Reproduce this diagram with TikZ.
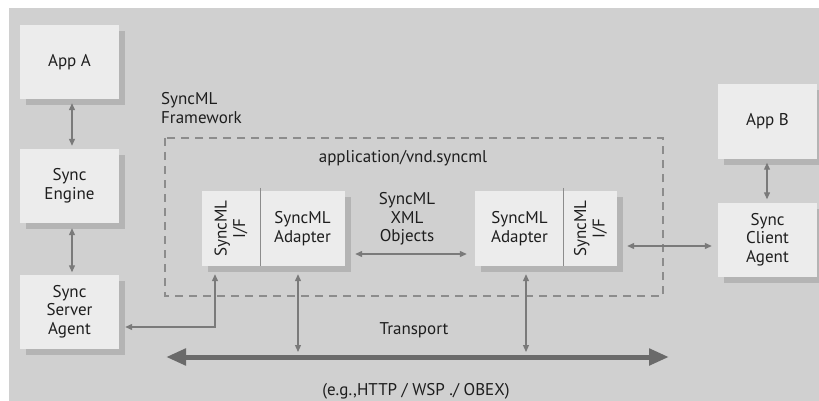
\documentclass[tikz,border=0pt]{standalone}
\usepackage{fontspec}
\setmainfont{PT Sans}
\usetikzlibrary{arrows.meta,calc,shadows}
\definecolor{bg}{HTML}{D0D0D0}
\definecolor{boxfill}{HTML}{ECECEC}
\definecolor{shadowc}{HTML}{B4B4B4}
\definecolor{linec}{HTML}{7A7A7A}
\definecolor{dashc}{HTML}{8C8C8C}
\definecolor{trc}{HTML}{6A6A6A}
\definecolor{txt}{HTML}{1E1E1E}
\begin{document}
\begin{tikzpicture}[x=1pt,y=-1pt,
  lbl/.style={inner sep=0pt, align=center, text=txt, font=\fontsize{17}{18.6}\selectfont},
  box/.style={lbl, fill=boxfill, draw=none,
    drop shadow={shadow xshift=6pt, shadow yshift=-6pt, fill=shadowc, opacity=1}},
  bigbox/.style={box, minimum width=99pt, minimum height=74pt},
  part/.style={box, minimum height=75pt},
  biarr/.style={linec, line width=1.2pt, {Triangle[length=7pt,width=6pt]}-{Triangle[length=7pt,width=6pt]}},
  trarr/.style={trc, line width=5pt, {Triangle[length=20pt,width=16pt]}-{Triangle[length=20pt,width=16pt]}},
  frame/.style={dashc, line width=1.2pt, dash pattern=on 8pt off 6pt},
  divider/.style={draw=dashc, line width=1pt}]
\useasboundingbox (0,0) rectangle (819,401);
\fill[white] (0,0) rectangle (819,401);
\fill[bg] (9,8) rectangle (819,401);

% dashed framework boundary
\draw[frame] (165,138) rectangle (663,296);
\node[lbl, align=left, anchor=west] (fwlabel) at (161,108) {SyncML\\Framework};
\node[lbl] (mime) at (403,158) {application/vnd.syncml};

% left column
\node[bigbox] (appa) at (69.5,62) {App A};
\node[bigbox] (engine) at (69.5,186) {Sync\\Engine};
\node[bigbox] (server) at (69.5,311.5) {Sync\\Server\\Agent};

% right column
\node[bigbox] (appb) at (767.5,121.5) {App B};
\node[bigbox] (client) at (767.5,239.5) {Sync\\Client\\Agent};

% left composite
\node[part, minimum width=58pt] (lif) at (231,228.5) {};
\node[lbl, rotate=90] (liftext) at (lif.center) {SyncML\\I/F};
\node[part, minimum width=85pt] (lad) at (302.5,228.5) {SyncML\\Adapter};
\draw[divider] ([shift={(0,-3)}]lif.north east) -- (lif.south east);

% right composite
\node[part, minimum width=89pt] (rad) at (519.5,228.5) {SyncML\\Adapter};
\node[part, minimum width=53pt] (rif) at (590.5,228.5) {};
\node[lbl, rotate=90] (riftext) at (rif.center) {SyncML\\I/F};
\draw[divider] ([shift={(0,-3)}]rif.north west) -- (rif.south west);

\node[lbl] (xmlobj) at (407,219) {SyncML\\XML\\Objects};

% transport
\coordinate (trl) at (166,357);
\coordinate (trr) at (669,357);
\draw[trarr] (trl) -- (trr);
\node[lbl] (transport) at (414,330) {Transport};
\node[lbl] (eg) at (416,391) {(e.g.,HTTP / WSP ./ OBEX)};

% connectors
\coordinate (ladtop) at ([shift={(-4.5,8)}]lad.south);
\coordinate (radtop) at ([shift={(6.5,8)}]rad.south);
\draw[biarr] ([shift={(2.5,4)}]appa.south) -- ([shift={(2.5,-3)}]engine.north);
\draw[biarr] ([shift={(2.5,5)}]engine.south) -- ([shift={(2.5,-2)}]server.north);
\draw[biarr] ([shift={(-0.5,4)}]appb.south) -- ([shift={(-0.5,-3)}]client.north);
\draw[biarr] ([shift={(6,15.5)}]server.east) -| ([shift={(-16,8)}]lif.south);
\draw[biarr] ([shift={(10,25.5)}]lad.east) -- ([shift={(-8,25.5)}]rad.west);
\draw[biarr] ([shift={(10,17.5)}]rif.east) -- ([shift={(-6,6.5)}]client.west);
\draw[biarr] (ladtop) -- ($(ladtop |- trl)+(0,-5)$);
\draw[biarr] (radtop) -- ($(radtop |- trl)+(0,-5)$);
\end{tikzpicture}
\end{document}
